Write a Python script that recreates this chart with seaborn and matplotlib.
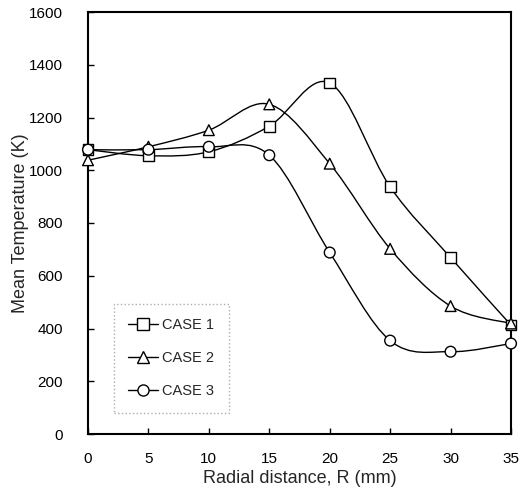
import numpy as np
import pandas as pd
import matplotlib
matplotlib.use("Agg")
import matplotlib.pyplot as plt
from matplotlib.path import Path
from matplotlib.patches import PathPatch
from matplotlib.lines import Line2D
import seaborn as sns

radius = [0, 5, 10, 15, 20, 25, 30, 35]
case1 = [1078, 1055, 1070, 1167, 1331, 937, 669, 413]
case2 = [1038, 1089, 1152, 1250, 1025, 702, 485, 419]
case3 = [1078, 1078, 1089, 1057, 688, 354, 312, 343]
labels = ["CASE 1", "CASE 2", "CASE 3"]
markers = {"CASE 1": "s", "CASE 2": "^", "CASE 3": "o"}

df = pd.DataFrame({
    "R": radius * 3,
    "T": case1 + case2 + case3,
    "case": [labels[0]] * 8 + [labels[1]] * 8 + [labels[2]] * 8,
})

sns.set_style("ticks")
plt.rcParams["font.family"] = ["Liberation Sans", "DejaVu Sans"]

fig = plt.figure(figsize=(5.23, 5.01), dpi=100)
ax = fig.add_axes([88 / 523, 1 - 434 / 501, 423 / 523, 422 / 501])


def smooth_path(xs, ys):
    pts = np.column_stack([xs, ys]).astype(float)
    n = len(pts)
    verts = [pts[0]]
    codes = [Path.MOVETO]
    for i in range(n - 1):
        p0 = pts[i - 1] if i > 0 else pts[i]
        p1 = pts[i]
        p2 = pts[i + 1]
        p3 = pts[i + 2] if i + 2 < n else pts[i + 1]
        c1 = p1 + (p2 - p0) / 6.0
        c2 = p2 - (p3 - p1) / 6.0
        verts += [c1, c2, p2]
        codes += [Path.CURVE4] * 3
    return Path(verts, codes)


for lab in labels:
    sub = df[df["case"] == lab]
    ax.add_patch(PathPatch(smooth_path(sub["R"].values, sub["T"].values),
                           facecolor="none", edgecolor="black", lw=1.0, zorder=2))

sns.scatterplot(data=df, x="R", y="T", style="case", markers=markers,
                color="white", edgecolor="black", linewidth=1.0, s=60,
                ax=ax, legend=False, zorder=3, clip_on=False)

ax.set_xlim(0, 35)
ax.set_ylim(0, 1600)
ax.set_xticks(np.arange(0, 36, 5))
ax.set_yticks(np.arange(0, 1601, 200))
ax.tick_params(direction="in", length=4, width=1, labelsize=11, colors="black")
ax.tick_params(axis="x", pad=13)
ax.tick_params(axis="y", pad=18)
for sp in ax.spines.values():
    sp.set_visible(True)
    sp.set_linewidth(1.5)
    sp.set_color("black")

ax.set_xlabel("Radial distance, R (mm)", fontsize=13, labelpad=3)
ax.set_ylabel("Mean Temperature (K)", fontsize=13, labelpad=0)

handles = [Line2D([], [], color="black", lw=1.0, marker=markers[l], markersize=8,
                  markerfacecolor="white", markeredgecolor="black") for l in labels]
leg = ax.legend(handles, labels, loc="lower left", bbox_to_anchor=(0.061, 0.05),
                frameon=True, fancybox=False, fontsize=10.5, handlelength=2.0,
                labelspacing=1.3, borderpad=1.0, handletextpad=0.3, borderaxespad=0)
leg.get_frame().set_edgecolor("#999999")
leg.get_frame().set_linestyle(":")
leg.get_frame().set_linewidth(1.0)

fig.savefig("out.png", dpi=100)
